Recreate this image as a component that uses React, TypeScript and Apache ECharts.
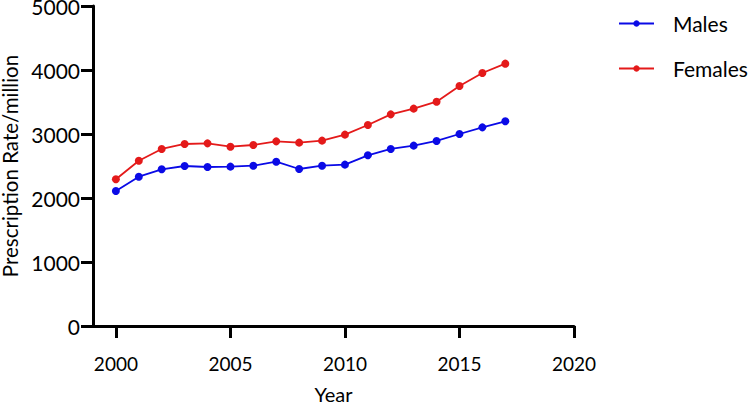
import React, { useEffect, useRef } from "react";
import * as echarts from "echarts";

const years = [2000, 2001, 2002, 2003, 2004, 2005, 2006, 2007, 2008, 2009, 2010, 2011, 2012, 2013, 2014, 2015, 2016, 2017];
const males = [2109, 2333, 2448, 2500, 2484, 2490, 2505, 2567, 2453, 2505, 2521, 2667, 2766, 2818, 2891, 3000, 3104, 3198];
const females = [2292, 2583, 2766, 2844, 2854, 2802, 2828, 2885, 2865, 2896, 2990, 3141, 3307, 3396, 3505, 3750, 3953, 4099];
const xTicks = [2000, 2005, 2010, 2015, 2020];

const FONT = "Lato, 'Open Sans', sans-serif";

export default function App() {
  const ref = useRef<HTMLDivElement>(null);
  useEffect(() => {
    document.body.style.margin = "0";
    const chart = echarts.init(ref.current!, null, { renderer: "svg" });
    const axisLine = { show: true, lineStyle: { color: "#000", width: 3 } };
    const tick = { show: true, inside: false, length: 12, lineStyle: { color: "#000", width: 3 } };
    chart.setOption({
      animation: false,
      textStyle: { fontFamily: FONT },
      grid: { left: 93, top: 6, width: 481, height: 320, containLabel: false, outerBoundsMode: "none" },
      legend: {
        orient: "vertical",
        left: 618,
        top: 13,
        padding: 0,
        itemWidth: 35,
        itemHeight: 8,
        itemGap: 24,
        textStyle: { fontFamily: FONT, fontSize: 21, color: "#000", padding: [0, 0, 0, 14] },
        data: ["Males", "Females"],
      },
      xAxis: {
        type: "value",
        min: 1999,
        max: 2020,
        name: "Year",
        nameLocation: "middle",
        nameGap: 58,
        nameTextStyle: { fontFamily: FONT, fontSize: 20, color: "#000" },
        axisLine,
        axisTick: { ...tick, customValues: xTicks },
        axisLabel: { customValues: xTicks, fontFamily: FONT, fontSize: 19, color: "#000", margin: 28, formatter: (v: number) => String(v) },
        splitLine: { show: false },
      },
      yAxis: {
        type: "value",
        min: 0,
        max: 5000,
        interval: 1000,
        name: "Prescription Rate/million",
        nameLocation: "middle",
        nameGap: 74,
        nameTextStyle: { fontFamily: FONT, fontSize: 20.5, color: "#000", lineHeight: 16, verticalAlign: "middle" },
        axisLine,
        axisTick: tick,
        axisLabel: { fontFamily: FONT, fontSize: 21, color: "#000", margin: 13, lineHeight: 16, formatter: (v: number) => String(v) },
        splitLine: { show: false },
      },
      series: [
        {
          name: "Males",
          type: "line",
          data: years.map((y, i) => [y, males[i]]),
          symbol: "circle",
          symbolSize: 8,
          lineStyle: { color: "#0a0ae6", width: 1.8 },
          itemStyle: { color: "#0a0ae6" },
        },
        {
          name: "Females",
          type: "line",
          data: years.map((y, i) => [y, females[i]]),
          symbol: "circle",
          symbolSize: 8,
          lineStyle: { color: "#e41a1a", width: 1.8 },
          itemStyle: { color: "#e41a1a" },
        },
      ],
    });
    return () => chart.dispose();
  }, []);
  return <div ref={ref} style={{ width: 750, height: 406 }} />;
}
